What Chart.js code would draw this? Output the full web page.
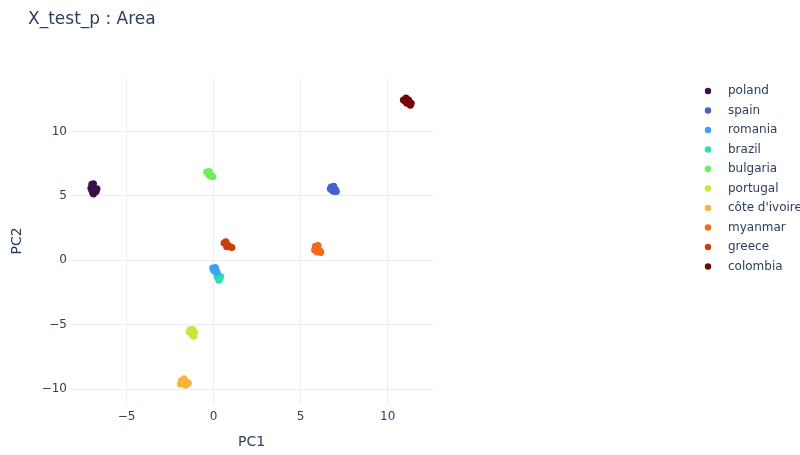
<!DOCTYPE html>
<html>
<head>
<meta charset="utf-8">
<script src="https://cdn.jsdelivr.net/npm/chart.js@4"></script>
<style>
   html, body { margin: 0; padding: 0; background: #ffffff; }
   #wrap { width: 800px; height: 455px; }
</style>
</head>
<body>
<div id="wrap"><canvas id="chart"></canvas></div>
<script>
const countries = ['poland', 'spain', 'romania', 'brazil', 'bulgaria', 'portugal', "côte d'ivoire", 'myanmar', 'greece', 'colombia'];
const colorList = ['#3a0f4a', '#4361d6', '#3aa2fa', '#26dfb2', '#6af05c', '#c6e836', '#f9b438', '#f66818', '#d23a0a', '#7a0403'];

// points [PC1, PC2]
const poland = [[-7.0, 5.9], [-6.9, 5.95], [-7.05, 5.6], [-6.85, 5.5], [-6.7, 5.55], [-6.95, 5.25], [-6.9, 5.15], [-7.0, 5.45], [-6.75, 5.35]];
const spain = [[6.75, 5.7], [6.9, 5.75], [6.8, 5.45], [7.0, 5.5], [7.05, 5.35], [6.9, 5.35], [6.7, 5.55]];
const romania = [[-0.05, -0.6], [0.1, -0.55], [0.15, -0.8], [0.0, -0.8], [0.2, -0.95]];
const brazil = [[0.15, -1.0], [0.25, -1.2], [0.35, -1.4], [0.3, -1.55], [0.2, -1.3], [0.4, -1.25]];
const bulgaria = [[-0.4, 6.85], [-0.25, 6.9], [-0.3, 6.7], [-0.15, 6.6], [-0.05, 6.5], [-0.2, 6.55]];
const portugal = [[-1.35, -5.4], [-1.2, -5.35], [-1.1, -5.6], [-1.25, -5.75], [-1.15, -5.9], [-1.4, -5.55]];
const coteDivoire = [[-1.85, -9.35], [-1.7, -9.2], [-1.55, -9.45], [-1.75, -9.55], [-1.9, -9.6], [-1.6, -9.7], [-1.45, -9.55]];
const myanmar = [[5.85, 1.1], [6.0, 1.15], [5.9, 0.9], [6.1, 0.75], [6.15, 0.6], [5.95, 0.65], [5.8, 0.8]];
const greece = [[0.6, 1.35], [0.7, 1.45], [0.8, 1.2], [0.95, 1.05], [1.05, 1.0], [0.75, 1.05]];
const colombia = [[10.9, 12.45], [11.05, 12.6], [11.2, 12.45], [11.1, 12.2], [11.3, 12.05], [11.35, 12.2], [11.0, 12.35]];

const seriesList = [poland, spain, romania, brazil, bulgaria, portugal, coteDivoire, myanmar, greece, colombia];
const xTicks = [-5, 0, 5, 10];
const yTicks = [-10, -5, 0, 5, 10];

const textColor = '#2a3f5f';
const gridColor = '#ebf0f8';
const fontFamily = '"DejaVu Sans", Verdana, sans-serif';

function minusLabel(v) {
   return v < 0 ? '\u2212' + Math.abs(v) : String(v);
}

// titre + legende dessines a la main (la legende est loin du graphique)
const decorPlugin = {
   id: 'decor',
   afterDraw(chart) {
      const ctx = chart.ctx;
      ctx.save();
      ctx.fillStyle = textColor;
      ctx.textBaseline = 'middle';
      ctx.textAlign = 'left';
      ctx.font = '17px ' + fontFamily;
      ctx.fillText('X_test_p : Area', 28, 20);
      ctx.font = '12px ' + fontFamily;
      countries.forEach(function (name, i) {
         const y = 91 + i * 19.5;
         ctx.fillStyle = colorList[i];
         ctx.beginPath();
         ctx.arc(708, y, 3.2, 0, Math.PI * 2);
         ctx.fill();
         ctx.fillStyle = textColor;
         ctx.fillText(name, 728, y);
      });
      ctx.restore();
   }
};

new Chart(document.getElementById('chart'), {
   type: 'scatter',
   data: {
      datasets: countries.map(function (name, i) {
         return {
            label: name,
            data: seriesList[i].map(function (p) { return {x: p[0], y: p[1]}; }),
            backgroundColor: colorList[i],
            borderWidth: 0,
            pointRadius: 3.5,
            pointHoverRadius: 3.5
         };
      })
   },
   options: {
      responsive: true,
      maintainAspectRatio: false,
      animation: false,
      layout: {
         padding: {left: 0, top: 77.5, right: 367, bottom: 0}
      },
      plugins: {
         legend: {display: false},
         tooltip: {enabled: false}
      },
      scales: {
         x: {
            type: 'linear',
            min: -8.25,
            max: 12.6,
            afterFit: function (scale) { scale.height = 50.5; },
            afterBuildTicks: function (scale) {
               scale.ticks = xTicks.map(function (v) { return {value: v}; });
            },
            border: {display: false},
            grid: {color: gridColor, drawTicks: false, lineWidth: 1},
            ticks: {
               color: textColor,
               font: {family: fontFamily, size: 12},
               padding: 5,
               maxRotation: 0,
               callback: minusLabel
            },
            title: {
               display: true,
               text: 'PC1',
               color: textColor,
               font: {family: fontFamily, size: 14},
               padding: {top: 0, bottom: 4}
            }
         },
         y: {
            type: 'linear',
            min: -11.2,
            max: 14.2,
            afterFit: function (scale) { scale.width = 70; },
            afterBuildTicks: function (scale) {
               scale.ticks = yTicks.map(function (v) { return {value: v}; });
            },
            border: {display: false},
            grid: {color: gridColor, drawTicks: false, lineWidth: 1},
            ticks: {
               color: textColor,
               font: {family: fontFamily, size: 12},
               padding: 3,
               callback: minusLabel
            },
            title: {
               display: true,
               text: 'PC2',
               color: textColor,
               font: {family: fontFamily, size: 14},
               padding: {top: 9, bottom: 0}
            }
         }
      }
   },
   plugins: [decorPlugin]
});
</script>
</body>
</html>
